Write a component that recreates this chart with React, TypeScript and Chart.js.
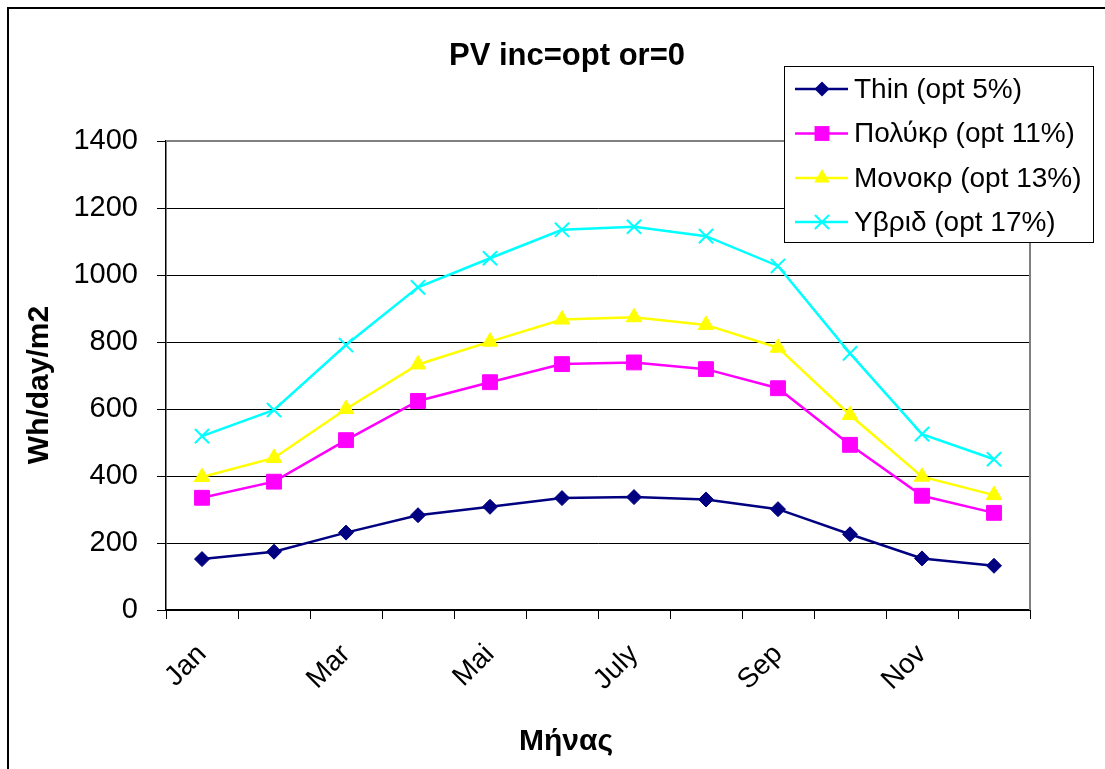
import React, { useEffect, useRef } from "react";
import { Chart, registerables } from "chart.js";
Chart.register(...registerables);

// ---- data ----
const months = ["Jan", "Feb", "Mar", "Apr", "Mai", "Jun", "July", "Aug", "Sep", "Oct", "Nov", "Dec"];
const thinValues = [152, 174, 231, 283, 308, 334, 337, 330, 301, 226, 154, 132];
const polyValues = [335, 383, 507, 624, 680, 734, 739, 719, 662, 493, 341, 290];
const monoValues = [397, 454, 600, 733, 801, 867, 874, 851, 783, 582, 398, 343];
const hybridValues = [519, 597, 791, 963, 1050, 1135, 1144, 1116, 1027, 766, 525, 450];
const seriesNames = ["Thin (opt 5%)", "Πολύκρ (opt 11%)", "Μονοκρ (opt 13%)", "Υβριδ (opt 17%)"];
const chartTitle = "PV inc=opt or=0";
const xTitle = "Μήνας";
const yTitle = "Wh/day/m2";
const yMin = 0;
const yMax = 1400;
const yStep = 200;

// ---- styles ----
const colors = ["#000080", "#FF00FF", "#FFFF00", "#00FFFF"];
const pointStyles = ["rectRot", "rect", "triangle", "crossRot"];
const pointRadii = [7.5, 10.5, 9, 10];
const FONT = "'Liberation Sans', Arial, sans-serif";

function drawMarker(ctx: CanvasRenderingContext2D, style: string, x: number, y: number, r: number, color: string) {
  ctx.save();
  ctx.fillStyle = color;
  ctx.strokeStyle = color;
  ctx.lineWidth = 2;
  ctx.beginPath();
  if (style === "rectRot") {
    ctx.moveTo(x, y - r);
    ctx.lineTo(x + r, y);
    ctx.lineTo(x, y + r);
    ctx.lineTo(x - r, y);
    ctx.closePath();
    ctx.fill();
  } else if (style === "rect") {
    const s = Math.SQRT1_2 * r;
    ctx.rect(x - s, y - s, 2 * s, 2 * s);
    ctx.fill();
  } else if (style === "triangle") {
    ctx.moveTo(x, y - r);
    ctx.lineTo(x + r * Math.sin(Math.PI / 3), y + r / 2);
    ctx.lineTo(x - r * Math.sin(Math.PI / 3), y + r / 2);
    ctx.closePath();
    ctx.fill();
  } else {
    const o = Math.SQRT1_2 * r;
    ctx.moveTo(x - o, y - o);
    ctx.lineTo(x + o, y + o);
    ctx.moveTo(x + o, y - o);
    ctx.lineTo(x - o, y + o);
    ctx.stroke();
  }
  ctx.restore();
}

const decorPlugin = {
  id: "decor",
  beforeDraw(chart: any) {
    const ctx = chart.ctx;
    ctx.save();
    ctx.fillStyle = "#fff";
    ctx.fillRect(0, 0, chart.width, chart.height);
    ctx.restore();
  },
  afterDraw(chart: any) {
    const ctx: CanvasRenderingContext2D = chart.ctx;
    const ca = chart.chartArea;
    ctx.save();
    // outer frame
    ctx.strokeStyle = "#000";
    ctx.lineWidth = 2;
    ctx.strokeRect(8, 8, 1300, 1000);
    // plot area top/right border
    ctx.strokeStyle = "#808080";
    ctx.lineWidth = 2;
    ctx.beginPath();
    ctx.moveTo(ca.left, ca.top);
    ctx.lineTo(ca.right, ca.top);
    ctx.lineTo(ca.right, ca.bottom);
    ctx.stroke();
    // title
    ctx.fillStyle = "#000";
    ctx.font = `bold 31px ${FONT}`;
    ctx.textAlign = "center";
    ctx.textBaseline = "middle";
    ctx.fillText(chartTitle, 567, 56);
    // x title
    ctx.font = `bold 30px ${FONT}`;
    ctx.fillText(xTitle, 566, 742);
    // y title
    ctx.save();
    ctx.translate(40, 385);
    ctx.rotate(-Math.PI / 2);
    ctx.fillText(yTitle, 0, 0);
    ctx.restore();
    // legend
    const lx = 784, ly = 66, lw = 309, lh = 176;
    ctx.fillStyle = "#fff";
    ctx.fillRect(lx, ly, lw, lh);
    ctx.strokeStyle = "#000";
    ctx.lineWidth = 1;
    ctx.strokeRect(lx + 0.5, ly + 0.5, lw, lh);
    const rowY = [89, 133.5, 178, 222];
    ctx.font = `28px ${FONT}`;
    ctx.textAlign = "left";
    ctx.textBaseline = "middle";
    seriesNames.forEach((name, i) => {
      const y = rowY[i];
      ctx.strokeStyle = colors[i];
      ctx.lineWidth = 2.5;
      ctx.beginPath();
      ctx.moveTo(795, y);
      ctx.lineTo(848, y);
      ctx.stroke();
      drawMarker(ctx, pointStyles[i], 822, y, pointRadii[i], colors[i]);
      ctx.fillStyle = "#000";
      ctx.fillText(name, 854, y + 1);
    });
    ctx.restore();
  },
};

export default function App() {
  const ref = useRef<HTMLCanvasElement>(null);
  useEffect(() => {
    if (!ref.current) return;
    const seriesData = [thinValues, polyValues, monoValues, hybridValues];
    const chart = new Chart(ref.current, {
      type: "line",
      data: {
        labels: months,
        datasets: seriesData.map((d, i) => ({
          label: seriesNames[i],
          data: d,
          borderColor: colors[i],
          backgroundColor: colors[i],
          borderWidth: 2.5,
          pointStyle: pointStyles[i] as any,
          pointRadius: pointRadii[i],
          pointBackgroundColor: colors[i],
          pointBorderColor: colors[i],
          pointBorderWidth: i === 3 ? 2 : 1,
          tension: 0,
          fill: false,
          order: 3 - i,
        })),
      },
      options: {
        responsive: false,
        animation: false,
        devicePixelRatio: 1,
        layout: { padding: { left: 60, right: 75, top: 141, bottom: 59 } },
        plugins: {
          legend: { display: false },
          title: { display: false },
          tooltip: { enabled: false },
        },
        scales: {
          x: {
            type: "category",
            offset: true,
            grid: {
              offset: true,
              drawOnChartArea: false,
              drawTicks: true,
              tickLength: 9,
              color: "#000",
              tickColor: "#000",
            },
            border: { color: "#000", width: 2 },
            ticks: {
              autoSkip: false,
              maxRotation: 45,
              minRotation: 45,
              color: "#000",
              font: { family: FONT, size: 28 },
              padding: 19,
              callback: (_v: any, i: number) => (i % 2 === 0 ? months[i] : ""),
            },
            afterFit: (s: any) => {
              s.height = 100;
            },
          },
          y: {
            min: yMin,
            max: yMax,
            grid: {
              color: "#000",
              lineWidth: 1,
              tickLength: 9,
              tickColor: "#000",
            },
            border: { color: "#000", width: 1.5 },
            ticks: {
              stepSize: yStep,
              color: "#000",
              font: { family: FONT, size: 29 },
              padding: 19,
              callback: (v: any) => String(v),
            },
            afterFit: (s: any) => {
              s.width = 106;
            },
          },
        },
      },
      plugins: [decorPlugin],
    });
    return () => chart.destroy();
  }, []);
  return (
    <div style={{ position: "fixed", left: 0, top: 0, width: 1105, height: 769, background: "#fff" }}>
      <canvas ref={ref} width={1105} height={769} style={{ display: "block" }} />
    </div>
  );
}
